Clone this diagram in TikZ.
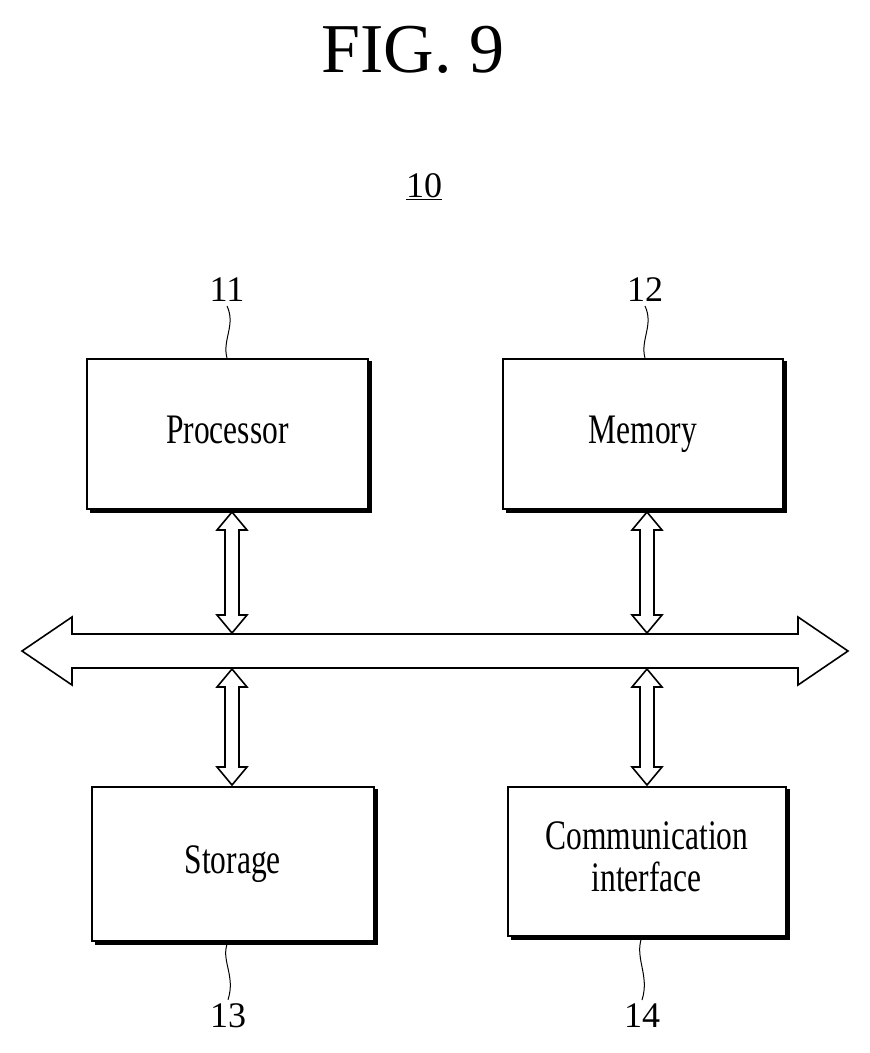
\documentclass[tikz,border=0pt]{standalone}
\usepackage{fontspec}
\setmainfont{Liberation Serif}
\begin{document}
\begin{tikzpicture}[x=1pt,y=-1pt,line width=1.6pt,
  box/.style={draw,minimum width=281pt,minimum height=151pt,anchor=north west,inner sep=0pt,font=\fontsize{42}{46}\selectfont},
  lbl/.style={font=\fontsize{36}{40}\selectfont}]
\useasboundingbox (0,0) rectangle (870,1053);
\node[font=\fontsize{70}{76}\selectfont] (fig) at (413,50) {FIG. 9};
\node[font=\fontsize{36}{40}\selectfont] (ten) at (424,187) {\underline{10}};
\newcommand\shbox[6]{%
 \node[box,minimum width=#3pt,minimum height=#4pt] (#5) at (#1,#2) {\scalebox{0.75}[1]{\begin{tabular}{@{}c@{}}#6\end{tabular}}};
 \draw[line width=3pt] ([xshift=2pt,yshift=-3pt]#5.north east) -- ([xshift=2pt,yshift=-2pt]#5.south east) -- ([xshift=4pt,yshift=-2pt]#5.south west);}
\shbox{86}{358}{281}{150}{proc}{Processor}
\shbox{502}{358}{280}{150}{mem}{Memory}
\shbox{91}{786}{282}{154}{stor}{Storage}
\shbox{507}{786}{278}{149}{comm}{Communication\\[-4pt]interface}
% labels with squiggles
\node[lbl] (l11) at (227,290) {11};
\node[lbl] (l12) at (645,290) {12};
\node[lbl] (l13) at (228,1016) {13};
\node[lbl] (l14) at (642,1016) {14};
\draw[line width=1pt] (l11.south) .. controls (236,325) and (222,340) .. (proc.north -| l11.south);
\draw[line width=1pt] (l12.south) .. controls (654,325) and (640,340) .. (mem.north -| l12.south);
\draw[line width=1pt] (stor.south -| l13.north) .. controls (220,960) and (236,975) .. (l13.north);
\draw[line width=1pt] (comm.south -| l14.north) .. controls (634,958) and (650,975) .. (l14.north);
% bus
\coordinate (busL) at (22,651); \coordinate (busR) at (848,651);
\draw[fill=white] (busL) -- (72,617) -- (72,634) -- (798,634) -- (798,617) -- (busR) -- (798,685) -- (798,668) -- (72,668) -- (72,685) -- cycle;
% vertical double arrows
\newcommand\vda[3]{%
 \draw[fill=white] (#1,#2) -- (#1-15,#2+18) -- (#1-7,#2+18) -- (#1-7,#3-18) -- (#1-15,#3-18) -- (#1,#3) -- (#1+15,#3-18) -- (#1+7,#3-18) -- (#1+7,#2+18) -- (#1+15,#2+18) -- cycle;}
\vda{232}{512}{633}
\vda{647}{512}{633}
\vda{232}{669}{785}
\vda{647}{669}{785}
\end{tikzpicture}
\end{document}
